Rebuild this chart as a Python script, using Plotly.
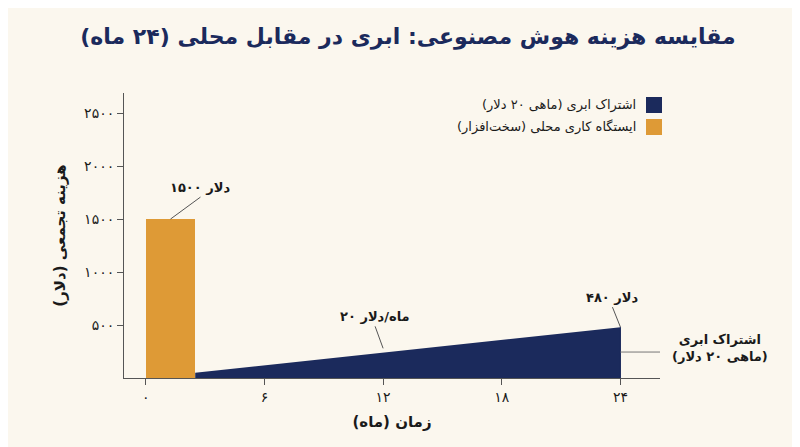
import plotly.graph_objects as go

months_ticks = [0, 6, 12, 18, 24]
months_tick_labels = ["۰", "۶", "۱۲", "۱۸", "۲۴"]
cost_ticks = [500, 1000, 1500, 2000, 2500]
cost_tick_labels = ["۵۰۰", "۱۰۰۰", "۱۵۰۰", "۲۰۰۰", "۲۵۰۰"]
cloud_months = [2.5, 24]
cloud_cost = [50, 480]
hw_month = [1.25]
hw_width = [2.5]
hw_cost = [1500]

NAVY = "#1B2A5C"
ORANGE = "#DE9A36"
BG = "#FBF7EE"
TXT = "#1a1a1a"
FONT = "DejaVu Sans"

fig = go.Figure()
fig.add_trace(go.Bar(x=hw_month, y=hw_cost, width=hw_width, marker=dict(color=ORANGE, line=dict(width=0)), showlegend=False))
fig.add_trace(go.Scatter(x=cloud_months, y=cloud_cost, mode="lines", fill="tozeroy",
                         fillcolor=NAVY, line=dict(color=NAVY, width=0), showlegend=False))
fig.add_trace(go.Scatter(x=[cloud_months[-1]] * 2, y=[0, cloud_cost[-1]], mode="lines",
                         line=dict(color=NAVY, width=1), showlegend=False))

fig.update_layout(
    width=800, height=447, paper_bgcolor=BG, plot_bgcolor=BG,
    margin=dict(l=116, r=148, t=85, b=77),
    font=dict(family=FONT, color=TXT, size=14),
    title=dict(text="<b>مقایسه هزینه هوش مصنوعی: ابری در مقابل محلی (۲۴ ماه)</b>",
               x=0.5, xanchor="center", y=0.955, font=dict(size=22, color=NAVY)),
    bargap=0,
    xaxis=dict(range=[-1.1, 26], tickvals=months_ticks, ticktext=months_tick_labels,
               showgrid=False, zeroline=False, showline=True, linecolor="#555", linewidth=1,
               ticks="outside", ticklen=6, tickcolor="#555",
               title=dict(text="<b>زمان (ماه)</b>", font=dict(size=15), standoff=12)),
    yaxis=dict(range=[0, 2690], tickvals=cost_ticks, ticktext=cost_tick_labels, automargin=False,
               showgrid=False, zeroline=False, showline=True, linecolor="#555", linewidth=1,
               ticks="outside", ticklen=6, tickcolor="#555",
               title=dict(text="<b>هزینه تجمعی (دلار)</b>", font=dict(size=15), standoff=14)),
)

for i, (label, col) in enumerate([("اشتراک ابری (ماهی ۲۰ دلار)", NAVY), ("ایستگاه کاری محلی (سخت‌افزار)", ORANGE)]):
    yc = 97 + i * 22
    fig.add_shape(type="rect", xref="paper", yref="paper",
                  x0=(638 - 116) / 536, x1=(654 - 116) / 536,
                  y0=(370 - (yc + 8)) / 285, y1=(370 - (yc - 8)) / 285,
                  fillcolor=col, line=dict(width=0))
    fig.add_annotation(xref="paper", yref="paper", x=(630 - 116) / 536, y=(370 - yc) / 285,
                       text=label, showarrow=False, xanchor="right", yanchor="middle", font=dict(size=13))

fig.add_annotation(x=1.25, y=1500, text="<b>دلار ۱۵۰۰</b>", ax=30, ay=-22, showarrow=True,
                   arrowhead=0, arrowwidth=1, arrowcolor="#555", yanchor="bottom", font=dict(size=13))
fig.add_annotation(x=12, y=280, text="<b>ماه/دلار ۲۰</b>", ax=-8, ay=-22, showarrow=True,
                   arrowhead=0, arrowwidth=1, arrowcolor="#555", yanchor="bottom", font=dict(size=13))
fig.add_annotation(x=24, y=480, text="<b>دلار ۴۸۰</b>", ax=-8, ay=-20, showarrow=True,
                   arrowhead=0, arrowwidth=1, arrowcolor="#555", yanchor="bottom", font=dict(size=13))
fig.add_shape(type="line", x0=24, x1=26.3, y0=245, y1=245, line=dict(color="#777", width=1))
fig.add_annotation(xref="paper", x=(712 - 116) / 536, y=280, text="<b>اشتراک ابری<br>(ماهی ۲۰ دلار)</b>",
                   showarrow=False, xanchor="center", yanchor="middle", font=dict(size=13))

fig.write_html("out.html")
